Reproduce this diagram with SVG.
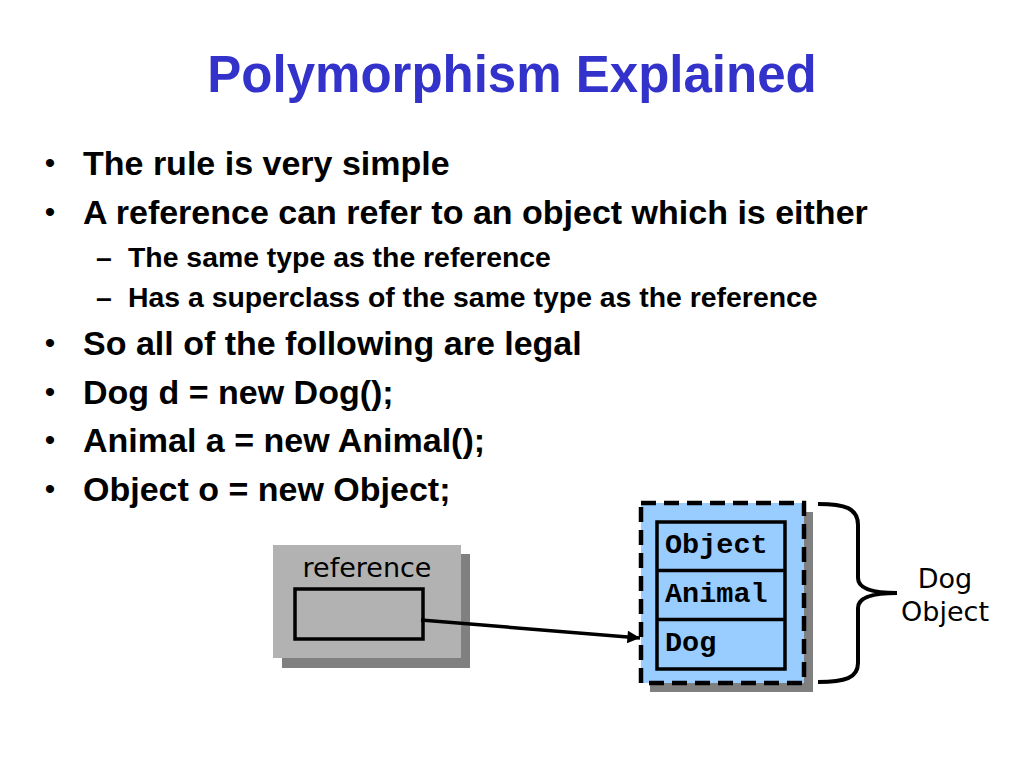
<svg xmlns="http://www.w3.org/2000/svg" width="1024" height="768" viewBox="0 0 1024 768">
  <defs>
    <style>
      .title { font-family: "Liberation Sans", Arial, sans-serif; font-weight: bold; font-size: 51px; fill: #3333cc; }
      .b1 { font-family: "Liberation Sans", Arial, sans-serif; font-weight: bold; font-size: 34px; fill: #000; }
      .b2 { font-family: "Liberation Sans", Arial, sans-serif; font-weight: bold; font-size: 28.4px; fill: #000; }
      .dot { font-family: "Liberation Sans", Arial, sans-serif; font-size: 30px; fill: #000; }
      .hand { font-family: "DejaVu Sans", sans-serif; font-size: 27px; fill: #000; }
      .mono { font-family: "Liberation Mono", "Courier New", monospace; font-weight: bold; font-size: 28.5px; fill: #000; }
      .conn { stroke: #000; stroke-width: 3.5; fill: none; }
    </style>
    <marker id="arrow" viewBox="0 0 10 10" refX="10" refY="5" markerWidth="5" markerHeight="3.6" markerUnits="strokeWidth" orient="auto">
      <path d="M0,0 L10,5 L0,10 z" fill="#000"/>
    </marker>
  </defs>
  <rect width="1024" height="768" fill="#fff"/>

  <text class="title" x="512" y="92" text-anchor="middle">Polymorphism Explained</text>

  <g id="bullets">
    <text class="dot" x="50" y="173" text-anchor="middle">•</text>
    <text class="b1" x="83" y="175">The rule is very simple</text>
    <text class="dot" x="50" y="222" text-anchor="middle">•</text>
    <text class="b1" x="83" y="224">A reference can refer to an object which is either</text>
    <text class="b2" x="96" y="267">–</text>
    <text class="b2" x="128" y="267">The same type as the reference</text>
    <text class="b2" x="96" y="307">–</text>
    <text class="b2" x="128" y="307">Has a superclass of the same type as the reference</text>
    <text class="dot" x="50" y="353" text-anchor="middle">•</text>
    <text class="b1" x="83" y="355">So all of the following are legal</text>
    <text class="dot" x="50" y="402" text-anchor="middle">•</text>
    <text class="b1" x="83" y="404">Dog d = new Dog();</text>
    <text class="dot" x="50" y="450" text-anchor="middle">•</text>
    <text class="b1" x="83" y="452">Animal a = new Animal();</text>
    <text class="dot" x="50" y="499" text-anchor="middle">•</text>
    <text class="b1" x="83" y="501">Object o = new Object;</text>
  </g>

  <g id="reference">
    <rect x="282" y="554" width="188" height="114" fill="#808080"/>
    <rect x="273" y="545" width="188" height="113" fill="#b2b2b2"/>
    <text class="hand" x="367" y="577" text-anchor="middle">reference</text>
    <rect x="295" y="589" width="128" height="50" fill="#b2b2b2" stroke="#000" stroke-width="3.5"/>
  </g>

  <g id="dog-object">
    <rect x="650" y="512" width="163" height="180" fill="#808080"/>
    <rect x="641" y="503" width="163" height="180" fill="#99ccff" stroke="#000" stroke-width="4.5" stroke-dasharray="15 8"/>
    <rect x="657" y="522" width="128" height="147" fill="#99ccff" stroke="#000" stroke-width="3.5"/>
    <line x1="657" y1="570.5" x2="785" y2="570.5" stroke="#000" stroke-width="3.5"/>
    <line x1="657" y1="619.5" x2="785" y2="619.5" stroke="#000" stroke-width="3.5"/>
    <text class="mono" x="665" y="553">Object</text>
    <text class="mono" x="665" y="602">Animal</text>
    <text class="mono" x="665" y="651">Dog</text>
  </g>

  <g id="dog-label">
    <path d="M818,504 C845,504 858,508 858,525 L858,578 C858,588 870,593 897,593 C870,593 858,598 858,608 L858,663 C858,678 845,682 818,682" fill="none" stroke="#000" stroke-width="4"/>
    <text class="hand" x="945" y="588" text-anchor="middle">Dog</text>
    <text class="hand" x="945" y="621" text-anchor="middle">Object</text>
  </g>

  <g id="connectors">
    <line class="conn" x1="421" y1="620" x2="640" y2="638" marker-end="url(#arrow)"/>
  </g>
</svg>
